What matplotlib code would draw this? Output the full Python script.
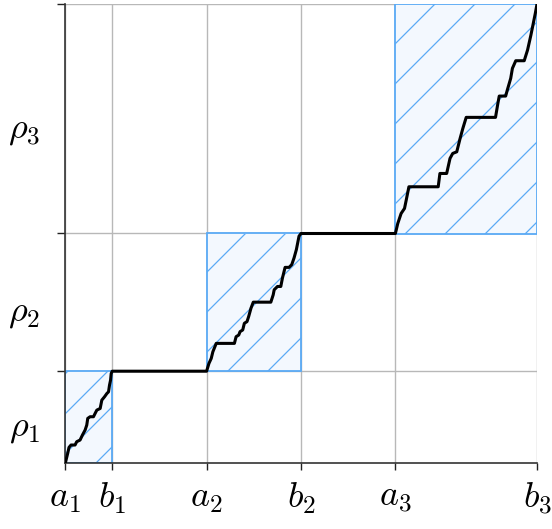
import matplotlib
matplotlib.use('Agg')
import matplotlib.pyplot as plt
from matplotlib.patches import Rectangle
from matplotlib.transforms import IdentityTransform
import numpy as np

plt.rcParams['mathtext.fontset'] = 'cm'

# 区间端点
a_pos = [0, 3, 7]
b_pos = [1, 5, 10]
# 纵轴分段
y_levels = [0, 1, 2.5, 5]
x_labels = [r'$a_1$', r'$b_1$', r'$a_2$', r'$b_2$', r'$a_3$', r'$b_3$']
rho_labels = [r'$\rho_1$', r'$\rho_2$', r'$\rho_3$']

# 每个区间内的阶梯曲线
seg1_x = [0, 0.014, 0.057, 0.085, 0.128, 0.213, 0.248, 0.319, 0.369, 0.426, 0.461, 0.482,
          0.532, 0.603, 0.638, 0.674, 0.745, 0.780, 0.837, 0.887, 0.922, 0.943, 0.965, 0.979, 1.0]
seg1_y = [0, 0.014, 0.105, 0.170, 0.196, 0.196, 0.232, 0.250, 0.304, 0.359, 0.413, 0.486,
          0.504, 0.504, 0.540, 0.576, 0.594, 0.685, 0.721, 0.757, 0.775, 0.848, 0.902, 0.975, 1.0]
seg2_x = [3.0, 3.049, 3.098, 3.133, 3.204, 3.589, 3.625, 3.681, 3.709, 3.765, 3.800, 3.856,
          3.891, 3.940, 3.989, 4.361, 4.411, 4.432, 4.502, 4.572, 4.607, 4.663, 4.747, 4.804,
          4.853, 4.902, 4.930, 4.958, 5.0]
seg2_y = [1.0, 1.084, 1.139, 1.212, 1.303, 1.303, 1.376, 1.394, 1.431, 1.449, 1.522, 1.540,
          1.595, 1.686, 1.752, 1.752, 1.832, 1.887, 1.923, 1.923, 2.015, 2.131, 2.131, 2.161,
          2.234, 2.325, 2.398, 2.471, 2.5]
seg3_x = [7.0, 7.05, 7.121, 7.193, 7.229, 7.286, 7.907, 7.943, 8.086, 8.157, 8.214, 8.300,
          8.371, 8.429, 8.500, 9.121, 9.171, 9.200, 9.336, 9.371, 9.443, 9.479, 9.550, 9.729,
          9.800, 9.871, 9.907, 9.964, 10.0]
seg3_y = [2.5, 2.609, 2.718, 2.773, 2.863, 3.009, 3.009, 3.154, 3.154, 3.318, 3.372, 3.390,
          3.536, 3.645, 3.765, 3.765, 3.917, 3.997, 3.997, 4.063, 4.190, 4.299, 4.382, 4.382,
          4.499, 4.662, 4.753, 4.898, 5.0]

W, H = 552, 529
fig = plt.figure(figsize=(W / 100, H / 100), dpi=100)
ax = fig.add_axes([65 / W, 1 - 463 / H, (537 - 65) / W, (463 - 4) / H])
ax.set_xlim(0, 10)
ax.set_ylim(0, 5)

xt = sorted(a_pos + b_pos)
ax.set_xticks(xt)
ax.set_xticklabels(x_labels, fontsize=26)
ax.set_yticks(y_levels[1:])
ax.set_yticklabels([])
ax.tick_params(axis='x', length=5, width=1, pad=8, color='#222222')
ax.tick_params(axis='y', length=6, width=1, color='#222222')
ax.grid(True, color='#b8b8b8', linewidth=1)
ax.set_axisbelow(True)
for s in ['top', 'right']:
    ax.spines[s].set_visible(False)
for s in ['left', 'bottom']:
    ax.spines[s].set_color('#333333')
    ax.spines[s].set_linewidth(1.2)

blue = '#5aaaf5'
fig.canvas.draw()
for i in range(3):
    rect = Rectangle((a_pos[i], y_levels[i]), b_pos[i] - a_pos[i], y_levels[i + 1] - y_levels[i],
                     facecolor='#f3f8fe', edgecolor=blue, linewidth=1.3, zorder=2)
    ax.add_patch(rect)
    # 斜线填充 (45 度, 间距约 40 像素)
    for c in range(39, 1200, 40):
        xs = np.array([0, W])
        ys = xs + H - c
        ln, = ax.plot(xs, ys, color=blue, linewidth=0.9, transform=IdentityTransform(), zorder=2.5)
        ln.set_clip_path(rect)

# 阶梯曲线
curve_x = seg1_x + seg2_x + seg3_x
curve_y = seg1_y + seg2_y + seg3_y
ax.plot(curve_x, curve_y, color='black', linewidth=2.2, zorder=4)

for i in range(3):
    ym = (y_levels[i] + y_levels[i + 1]) / 2
    ax.annotate(rho_labels[i], xy=(0, ym), xycoords=ax.get_yaxis_transform(),
                xytext=(-18, -8), textcoords='offset points', ha='right', va='center',
                fontsize=26)

fig.savefig('out.png', dpi=100)
